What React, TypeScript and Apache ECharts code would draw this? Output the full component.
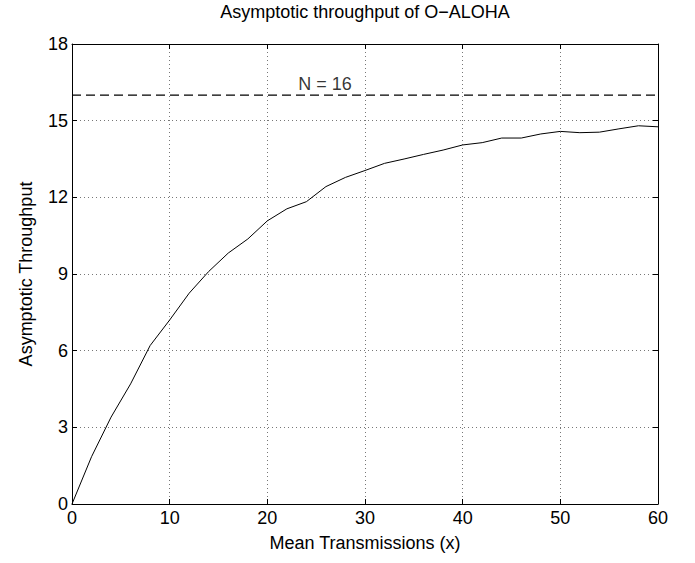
import React, { useEffect, useRef } from "react";
import * as echarts from "echarts";

const xValues = [0, 2, 4, 6, 8, 10, 12, 14, 16, 18, 20, 22, 24, 26, 28, 30, 32, 34, 36, 38, 40, 42, 44, 46, 48, 50, 52, 54, 56, 58, 60];
const throughput = [0, 1.85, 3.4, 4.7, 6.2, 7.2, 8.25, 9.1, 9.82, 10.37, 11.08, 11.55, 11.83, 12.42, 12.78, 13.05, 13.33, 13.5, 13.68, 13.85, 14.05, 14.14, 14.32, 14.32, 14.48, 14.58, 14.53, 14.55, 14.68, 14.8, 14.76];
const limitN = 16;
const limitX = [0, 60];
const annotation = { x: 25.9, y: 16.44, text: "N = 16" };
const titleText = "Asymptotic throughput of O\u2212ALOHA";
const xName = "Mean Transmissions (x)";
const yName = "Asymptotic Throughput";

const FONT = "Liberation Sans, Arial, Helvetica, sans-serif";
const FS = 18;

export default function App() {
  const ref = useRef<HTMLDivElement>(null);
  useEffect(() => {
    if (!ref.current) return;
    const chart = echarts.init(ref.current, undefined, { renderer: "svg" });
    const tickCommon = { show: true, inside: true, length: 5, lineStyle: { color: "#000", width: 1 } };
    const gridLine = { show: true, lineStyle: { color: "#777", width: 1, type: [1, 3] as any } };
    chart.setOption({
      animation: false,
      backgroundColor: "#fff",
      title: {
        text: titleText,
        left: 365,
        textAlign: "center",
        top: 3,
        padding: 0,
        textStyle: { fontFamily: FONT, fontSize: FS, fontWeight: "normal", color: "#000" },
      },
      grid: { left: 72, right: 37, top: 44, bottom: 59, containLabel: false },
      xAxis: [
        {
          type: "value",
          min: 0,
          max: 60,
          interval: 10,
          name: xName,
          nameLocation: "middle",
          nameGap: 30,
          nameTextStyle: { fontFamily: FONT, fontSize: FS, color: "#000" },
          axisLine: { show: true, lineStyle: { color: "#000", width: 1 } },
          axisTick: tickCommon,
          axisLabel: { fontFamily: FONT, fontSize: FS, color: "#000", margin: 5 },
          splitLine: gridLine,
        },
        {
          type: "value",
          position: "top",
          min: 0,
          max: 60,
          interval: 10,
          axisLine: { show: true, onZero: false, lineStyle: { color: "#000", width: 1 } },
          axisTick: tickCommon,
          axisLabel: { show: false },
          splitLine: { show: false },
        },
      ],
      yAxis: [
        {
          type: "value",
          min: 0,
          max: 18,
          interval: 3,
          name: yName,
          nameLocation: "middle",
          nameGap: 37,
          nameTextStyle: { fontFamily: FONT, fontSize: FS, color: "#000" },
          axisLine: { show: true, lineStyle: { color: "#000", width: 1 } },
          axisTick: tickCommon,
          axisLabel: { fontFamily: FONT, fontSize: FS, color: "#000", margin: 4 },
          splitLine: gridLine,
        },
        {
          type: "value",
          position: "right",
          min: 0,
          max: 18,
          interval: 3,
          axisLine: { show: true, onZero: false, lineStyle: { color: "#000", width: 1 } },
          axisTick: tickCommon,
          axisLabel: { show: false },
          splitLine: { show: false },
        },
      ],
      series: [
        {
          type: "line",
          data: xValues.map((x, i) => [x, throughput[i]]),
          showSymbol: false,
          symbol: "none",
          lineStyle: { color: "#000", width: 1 },
        },
        {
          type: "line",
          data: limitX.map((x) => [x, limitN]),
          showSymbol: false,
          symbol: "none",
          lineStyle: { color: "#000", width: 1.3, type: [9, 5] as any },
        },
        {
          type: "scatter",
          data: [[annotation.x, annotation.y]],
          symbolSize: 0,
          label: {
            show: true,
            position: "inside",
            formatter: annotation.text,
            fontFamily: FONT,
            fontSize: FS,
            color: "#000",
          },
        },
      ],
    });
    return () => chart.dispose();
  }, []);
  return <div ref={ref} style={{ width: 695, height: 563, position: "absolute", left: 0, top: 0 }} />;
}
